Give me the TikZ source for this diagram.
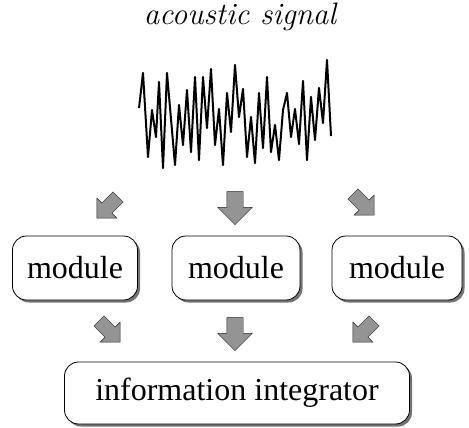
\documentclass[tikz,border=0pt]{standalone}
\usepackage{fontspec}
\setmainfont{Liberation Serif}
\usepackage{tikz}
\usetikzlibrary{shapes,arrows,shadows,positioning}

\begin{document}
\begin{tikzpicture}[x=1pt,y=-1pt,
	modbox/.style={draw,thick,rounded corners=14pt,fill=white,
		drop shadow={shadow xshift=2.5pt,shadow yshift=-2.5pt,fill=black!55,opacity=1},
		font=\fontsize{32}{38}\selectfont},
	blockarrow/.style={single arrow,draw=black!85,fill=black!42,thin,inner xsep=0pt,inner ysep=8pt,
		minimum height=33pt,single arrow head extend=9pt},
	diagarrow/.style={blockarrow,inner ysep=7pt,minimum height=30pt,single arrow head extend=7pt}]
	\useasboundingbox (0,0) rectangle (469,428);
	\node[font=\fontsize{31}{38}\usefont{TU}{lmr}{m}{it}] (title) at (240,17) {acoustic signal};
	\draw[line width=2pt,line join=round] (139,108)--(143,73)--(148,157)--(152,110)--(156,137)--(159,82)--(163,168)--(167,73)--(175,165)--(179,105)--(183,145)--(187,90)--(191,152)--(195,77)--(199,160)--(203,77)--(207,128)--(211,69)--(215,145)--(219,109)--(223,165)--(227,93)--(231,132)--(235,65)--(239,117)--(243,89)--(247,157)--(251,117)--(255,163)--(259,93)--(263,148)--(267,77)--(271,152)--(275,125)--(279,160)--(283,110)--(287,93)--(291,137)--(295,109)--(299,144)--(303,81)--(307,160)--(311,97)--(315,140)--(319,88)--(323,123)--(327,60)--(331,136);
	\node[diagarrow,rotate=-135] (a1) at (110,205) {};
	\node[blockarrow,rotate=-90] (a2) at (235,204) {};
	\node[diagarrow,rotate=-45] (a3) at (361,202) {};
	\node[modbox,minimum width=125pt,minimum height=64pt] (m1) at (75,268) {module};
	\node[modbox,minimum width=128pt,minimum height=64pt] (m2) at (236,268) {module};
	\node[modbox,minimum width=130pt,minimum height=64pt] (m3) at (397,268) {module};
	\node[diagarrow,rotate=-45] (b1) at (107,329) {};
	\node[blockarrow,rotate=-90] (b2) at (235,330) {};
	\node[diagarrow,rotate=-135] (b3) at (366,329) {};
	\node[modbox,minimum width=345pt,minimum height=62pt] (integ) at (237,393) {information integrator};
\end{tikzpicture}
\end{document}
